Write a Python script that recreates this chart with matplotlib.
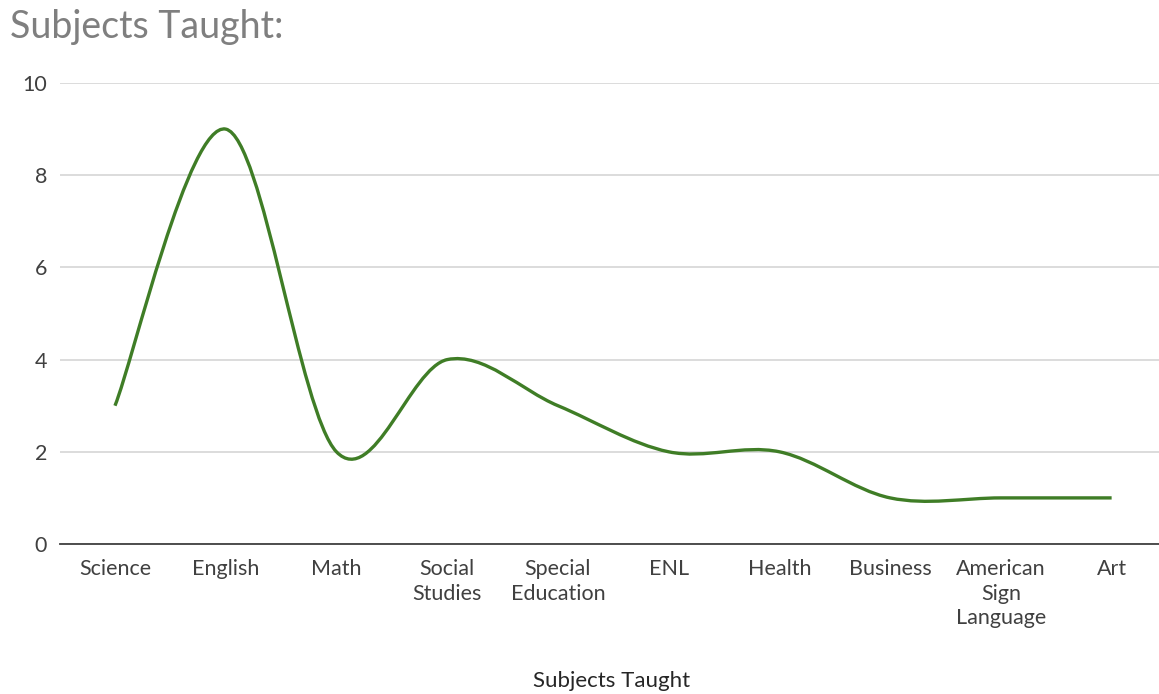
import numpy as np
import matplotlib.pyplot as plt
from matplotlib.path import Path
from matplotlib.patches import PathPatch

plt.rcParams['font.family'] = ['Lato', 'DejaVu Sans']

subjects = ['Science', 'English', 'Math', 'Social\nStudies', 'Special\nEducation',
            'ENL', 'Health', 'Business', 'American\nSign\nLanguage', 'Art']
counts = [3, 9, 2, 4, 3, 2, 2, 1, 1, 1]
y_ticks = [0, 2, 4, 6, 8, 10]

fig = plt.figure(figsize=(11.59, 6.94), dpi=100)
ax = fig.add_axes([59.6 / 1159, 150 / 694, (1167 - 59.6) / 1159, 461 / 694])

# smoothed line (Catmull-Rom style bezier segments, like Excel's smoothing)
x = np.arange(len(counts), dtype=float)
y = np.array(counts, dtype=float)
pts = np.column_stack([x, y])
verts = [pts[0]]
codes = [Path.MOVETO]
n = len(pts)
for i in range(n - 1):
    p0 = pts[i - 1] if i > 0 else pts[i]
    p1 = pts[i]
    p2 = pts[i + 1]
    p3 = pts[i + 2] if i + 2 < n else pts[i + 1]
    c1 = p1 + (p2 - p0) / 6
    c2 = p2 - (p3 - p1) / 6
    verts += [c1, c2, p2]
    codes += [Path.CURVE4] * 3
path = Path(verts, codes)
ax.add_patch(PathPatch(path, facecolor='none', edgecolor='#3f7d26', lw=2.4,
                       capstyle='butt', joinstyle='round', zorder=3))

ax.set_xlim(-0.5, len(counts) - 0.5)
ax.set_ylim(0, 10)
ax.set_yticks(y_ticks)
ax.set_xticks(x)
ax.set_xticklabels(subjects, fontsize=15.5, color='#404040', linespacing=1.28)
ax.tick_params(axis='y', length=0, pad=9, labelsize=15.5, labelcolor='#404040')
ax.tick_params(axis='x', length=0, pad=11)
ax.grid(axis='y', color='#d9d9d9', lw=1.3)
ax.set_axisbelow(True)
for s in ['left', 'right', 'top']:
    ax.spines[s].set_visible(False)
ax.spines['bottom'].set_color('#404040')
ax.spines['bottom'].set_linewidth(1.3)
ax.spines['bottom'].set_zorder(2)

fig.text(10 / 1159, 1 - 38 / 694, 'Subjects Taught:', fontsize=27, color='#7f7f7f',
         ha='left', va='baseline')
fig.text(612 / 1159, 1 - 687 / 694, 'Subjects Taught', fontsize=16, color='#262626',
         ha='center', va='baseline')

fig.savefig('out.png', dpi=100)
